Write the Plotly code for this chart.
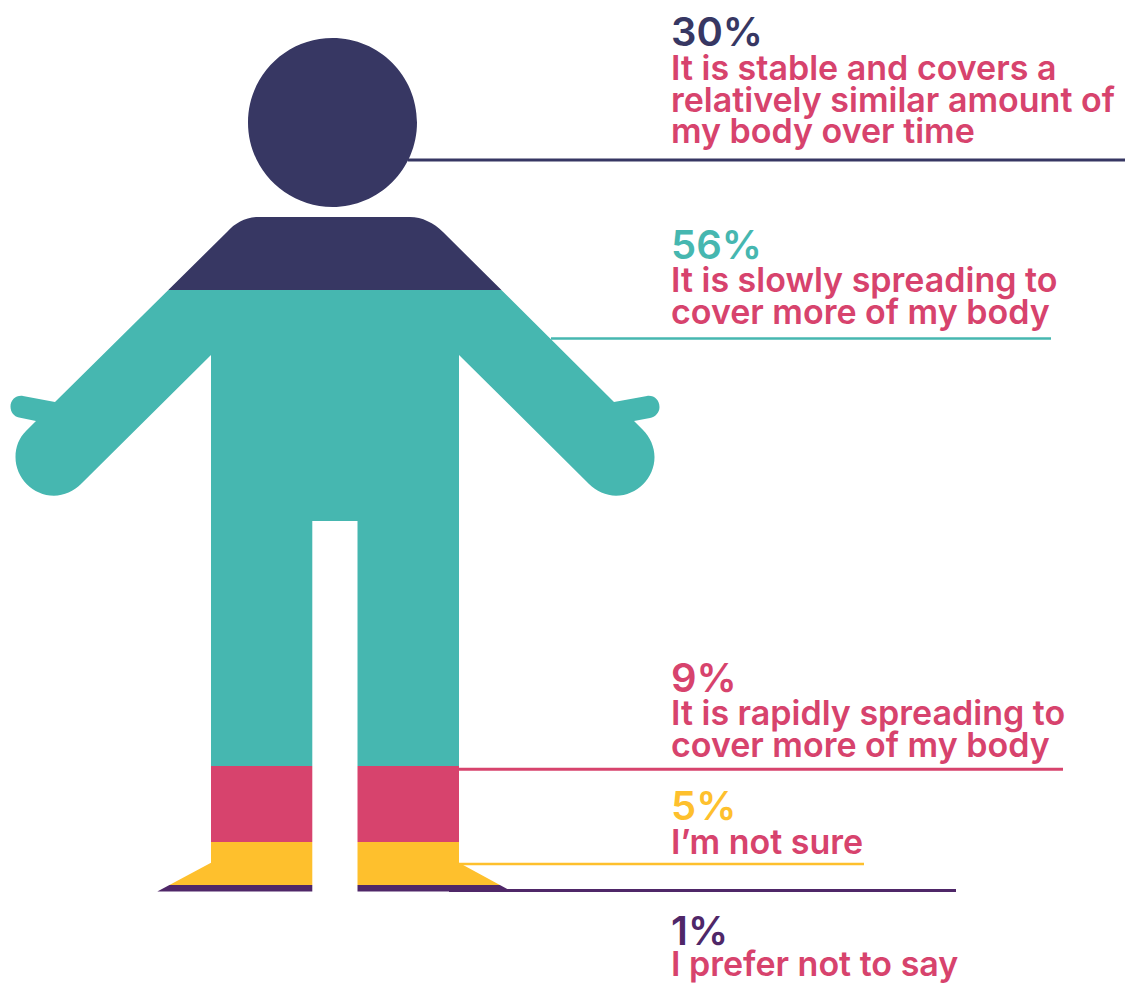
import plotly.graph_objects as go

# Survey responses, stacked head to toe through the figure
shares = [30, 56, 9, 5, 1]
share_labels = ["30%", "56%", "9%", "5%", "1%"]
answers = [
    ["It is stable and covers a", "relatively similar amount of", "my body over time"],
    ["It is slowly spreading to", "cover more of my body"],
    ["It is rapidly spreading to", "cover more of my body"],
    ["I’m not sure"],
    ["I prefer not to say"],
]
colors = ["#373763", "#46B7B0", "#D7436D", "#FEC02D", "#4F2768"]
answer_color = "#D7436D"

W, H = 1125, 983
FONT = "Inter"
PCT_SIZE = 40
TXT_SIZE = 34


def px(x):
    return x / W


def py(y):
    return 1 - y / H


def pt(x, y):
    return f"{px(x):.5f},{py(y):.5f}"


def path(*cmds):
    out = []
    for c in cmds:
        out.append(c[0] + " ".join(pt(*p) for p in c[1:]))
    return " ".join(out)


def circle(cx, cy, r):
    k = r * 0.5523
    return path(
        ("M", (cx - r, cy)),
        ("C", (cx - r, cy - k), (cx - k, cy - r), (cx, cy - r)),
        ("C", (cx + k, cy - r), (cx + r, cy - k), (cx + r, cy)),
        ("C", (cx + r, cy + k), (cx + k, cy + r), (cx, cy + r)),
        ("C", (cx - k, cy + r), (cx - r, cy + k), (cx - r, cy)),
    ) + " Z"


# Body outline, clockwise from the left shoulder
body = path(
    ("M", (227, 232)),
    ("C", (235, 223), (246, 217), (258, 217)),
    ("L", (410, 217)),
    ("C", (422, 217), (434, 223), (443, 232)),
    ("L", (614, 402)),
    ("L", (647, 396)),
    ("C", (654, 395), (659.5, 400), (659.5, 407)),
    ("C", (659.5, 413), (655, 417), (650, 418)),
    ("L", (634, 421)),
    ("L", (643, 430)),
    ("C", (650, 437), (654.5, 447), (654.5, 457)),
    ("C", (654.5, 478), (637, 495.7), (616, 495.7)),
    ("C", (606, 495.7), (596, 491), (589, 484)),
    ("L", (459, 355)),
    ("L", (459, 862.7)),
    ("L", (512, 891.5)),
    ("L", (357.5, 891.5)),
    ("L", (357.5, 521)),
    ("L", (312.3, 521)),
    ("L", (312.3, 891.5)),
    ("L", (157.3, 891.5)),
    ("L", (211, 862.7)),
    ("L", (211, 355)),
    ("L", (81, 484)),
    ("C", (74, 491), (64, 495.7), (54, 495.7)),
    ("C", (33, 495.7), (15.5, 478), (15.5, 457)),
    ("C", (15.5, 447), (19, 438), (26, 431)),
    ("L", (36, 421)),
    ("L", (19, 417.5)),
    ("C", (14, 416.5), (10.5, 412), (10.5, 406.5)),
    ("C", (10.5, 400), (16, 395), (23, 396)),
    ("L", (55, 402)),
) + " Z"

# White sheet with the figure cut out: only the bars behind the cut-out show
backdrop = path(("M", (0, 0)), ("L", (670, 0)), ("L", (670, H)), ("L", (0, H))) + " Z"
mask = f"{backdrop} {circle(332.5, 122.5, 84.5)} {body}"

fig = go.Figure()
for name, share, color in zip(share_labels, shares, colors):
    fig.add_trace(go.Bar(x=[332], y=[share], width=[664], name=name,
                         marker=dict(color=color, line=dict(width=0))))

shapes = [dict(type="path", path=mask, xref="paper", yref="paper",
               fillcolor="white", line=dict(width=0), layer="above")]

# Leader lines: start x, end x, height, width
leaders = [
    (408, 1125, 160, 3),
    (551, 1051, 338.5, 2.6),
    (459, 1063, 769.2, 3),
    (459, 864, 864, 2.7),
    (449, 956, 890.6, 3),
]
for (x0, x1, y, w), color in zip(leaders, colors):
    shapes.append(dict(type="line", xref="paper", yref="paper", x0=px(x0), x1=px(x1),
                       y0=py(y), y1=py(y), line=dict(color=color, width=w), layer="above"))

# Text baselines for each block: percentage first, then the answer lines
baselines = [
    [46, 80, 111.5, 143],
    [258.5, 292, 324],
    [691.5, 725, 757],
    [819.5, 854],
    [944.5, 976],
]
annotations = []
for label, lines, color, ys in zip(share_labels, answers, colors, baselines):
    rows = [(label, color, PCT_SIZE)] + [(t, answer_color, TXT_SIZE) for t in lines]
    for (text, c, size), y in zip(rows, ys):
        annotations.append(dict(
            text=text, x=px(670), y=py(y - 0.36 * size), xref="paper", yref="paper",
            xanchor="left", yanchor="middle", showarrow=False, align="left",
            borderpad=0, font=dict(family=FONT, size=size, color=c, weight=600)))

# Vertical scale: one percentage point spans 8.5 px, zero sitting at 34.8 px
PER_POINT = 8.5
ZERO_AT = 34.8
fig.update_layout(
    width=W, height=H, margin=dict(l=0, r=0, t=0, b=0), barmode="stack",
    paper_bgcolor="white", plot_bgcolor="white", showlegend=False,
    xaxis=dict(range=[0, W], visible=False, fixedrange=True),
    yaxis=dict(range=[(H - ZERO_AT) / PER_POINT, -ZERO_AT / PER_POINT],
               visible=False, fixedrange=True),
    shapes=shapes, annotations=annotations,
)
fig.write_html("out.html", config=dict(displayModeBar=False))
